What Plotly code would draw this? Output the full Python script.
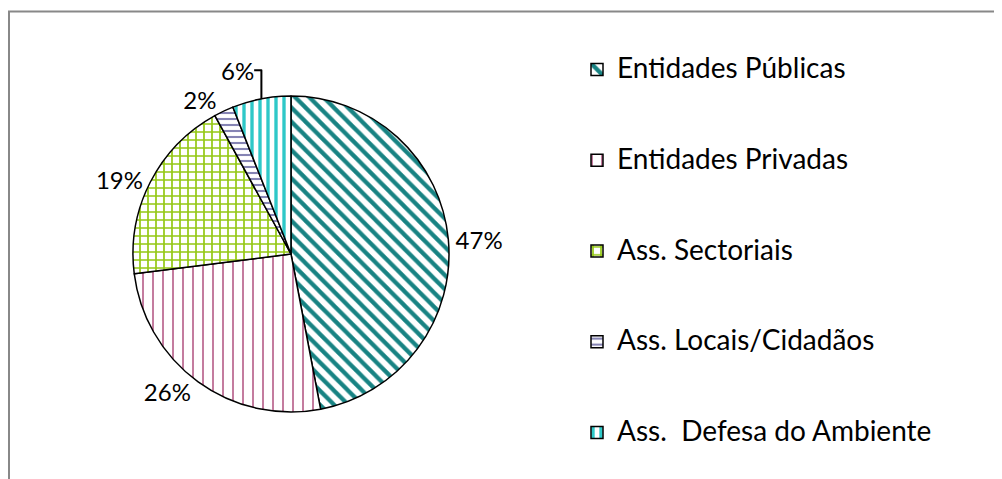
import plotly.graph_objects as go

# dados do gráfico
categorias = ['Entidades Públicas', 'Entidades Privadas', 'Ass. Sectoriais',
              'Ass. Locais/Cidadãos', 'Ass.  Defesa do Ambiente']
valores = [47, 26, 19, 2, 6]

cores = ['#188383', '#b0507f', '#94c814', '#8684b4', '#2ec8c8']
padroes = ['\\', '|', '+', '-', '|']
tamanhos = [10, 10, 8, 6, 8]
solidez = [0.42, 0.15, 0.38, 0.35, 0.42]

W, H = 1002, 479
OFF = 8  # margem do body da página html

# legenda com linhas em branco para espaçar as entradas
nomes = ['&nbsp;<br><span style="font-size:28px">' + c.replace('  ', '&nbsp; ')
         + '</span><br>&nbsp;' for c in categorias]

cx, cy, r = 291 - OFF, 254 - OFF, 158

fig = go.Figure(go.Pie(
    labels=nomes,
    values=valores,
    sort=False,
    direction='clockwise',
    rotation=0,
    textinfo='percent',
    textposition='outside',
    textfont=dict(family='Lato', size=24, color='black'),
    marker=dict(
        colors=['white'] * 5,
        line=dict(color='black', width=1.5),
        pattern=dict(shape=padroes, fgcolor=cores, bgcolor='white', fgopacity=1,
                     size=tamanhos, solidity=solidez, fillmode='overlay'),
    ),
    domain=dict(x=[(cx - r) / W, (cx + r) / W],
                y=[(H - cy - r) / H, (H - cy + r) / H]),
    automargin=False,
))

# moldura cinzenta
fig.add_shape(type='rect', xref='paper', yref='paper',
              x0=1 / W, x1=1.05, y0=-0.05, y1=1 - (11.5 - OFF) / H,
              line=dict(color='#888888', width=2), fillcolor='rgba(0,0,0,0)')

fig.update_layout(
    width=W, height=H,
    margin=dict(l=0, r=0, t=0, b=0),
    paper_bgcolor='white',
    plot_bgcolor='white',
    font=dict(family='Lato', color='black'),
    showlegend=True,
    legend=dict(x=(577 - OFF) / W, xanchor='left', y=1 - (19 - OFF) / H, yanchor='top',
                font=dict(family='Lato', size=22.5, color='black'),
                bgcolor='rgba(0,0,0,0)', valign='middle'),
)

fig.write_html('out.html')
